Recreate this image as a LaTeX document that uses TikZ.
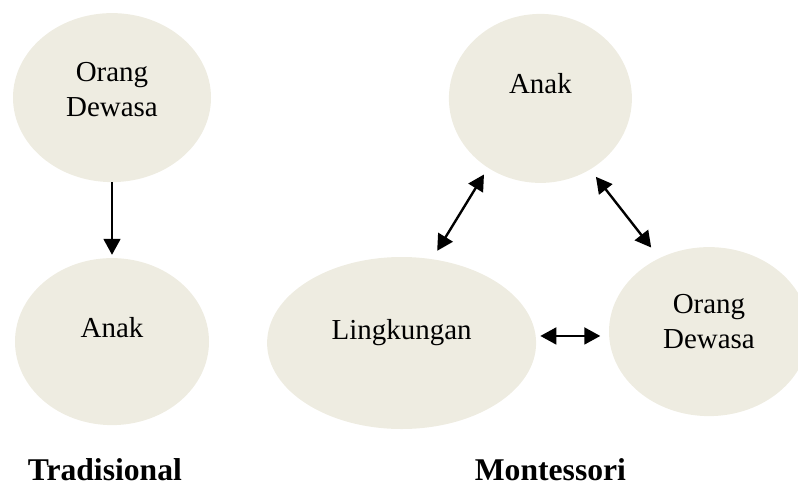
\documentclass[tikz,border=0pt]{standalone}
\usepackage{fontspec}
\setmainfont{Liberation Serif}
\usetikzlibrary{shapes.geometric,arrows.meta}

\begin{document}
\begin{tikzpicture}[
  elips/.style={ellipse, fill=colElips, inner sep=0pt},
  teks/.style={font=\fontsize{20.6}{25.3}\selectfont, align=center, inner sep=0pt},
  judul/.style={font=\fontsize{22.5}{27}\selectfont\bfseries, anchor=base, inner sep=0pt},
  ujung/.tip={Triangle[width=0.42cm,length=0.4cm]},
  panah/.style={line width=1.7pt, -ujung},
  panahdua/.style={line width=1.7pt, ujung-ujung}
]

% Warna
\definecolor{colElips}{HTML}{EEECE1}

% Batas gambar
\useasboundingbox (0,0) rectangle (19.95,-12.175);

% Tradisional
\node[elips, minimum width=4.95cm, minimum height=4.225cm] (tradOrang) at (2.80,-2.44) {};
\node[elips, minimum width=4.85cm, minimum height=4.175cm] (tradAnak) at (2.80,-8.54) {};
\node[teks] (tradOrangTeks) at ([yshift=0.2cm]tradOrang) {Orang\\Dewasa};
\node[teks] (tradAnakTeks) at ([yshift=0.35cm]tradAnak) {Anak};

\draw[panah, shorten >=0.075cm] (tradOrang.south) -- (tradAnak.north);

% Montessori
\node[elips, minimum width=4.575cm, minimum height=4.225cm] (anakM) at (13.51,-2.46) {};
\node[elips, minimum width=6.725cm, minimum height=4.3cm] (lingM) at (10.04,-8.575) {};
\node[elips, minimum width=5.0cm, minimum height=4.225cm] (orangM) at (17.725,-8.29) {};
\node[teks] (anakMTeks) at ([yshift=0.37cm]anakM) {Anak};
\node[teks] (lingMTeks) at ([yshift=0.26cm]lingM) {Lingkungan};
\node[teks] (orangMTeks) at ([yshift=0.25cm]orangM) {Orang\\Dewasa};

% Panah dua arah
\draw[panahdua, shorten <=0.19cm, shorten >=0.24cm] (anakM.233.2) -- (lingM.70.2);
\draw[panahdua, shorten <=0.23cm, shorten >=0.33cm] (anakM.305.2) -- (orangM.124.1);
\draw[panahdua, shorten <=0.11cm, shorten >=0.21cm] (lingM.3.3) -- (lingM.3.3 -| orangM.west);

% Judul
\node[judul] (judulTrad) at (2.62,-12.0) {Tradisional};
\node[judul] (judulMont) at (13.76,-12.0) {Montessori};
\end{tikzpicture}
\end{document}
